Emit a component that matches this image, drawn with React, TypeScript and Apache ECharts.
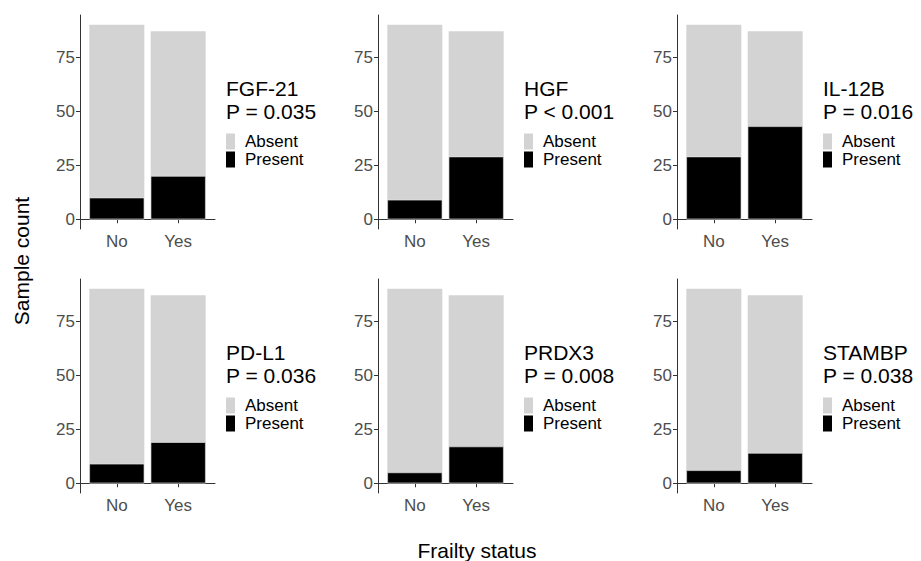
import React, { useEffect, useRef } from "react";
import * as echarts from "echarts";

const categories = ["No", "Yes"];
const markers = ["FGF-21", "HGF", "IL-12B", "PD-L1", "PRDX3", "STAMBP"];
const pValues = ["P = 0.035", "P < 0.001", "P = 0.016", "P = 0.036", "P = 0.008", "P = 0.038"];
const totals = [90, 87];
const presentNo = [10, 9, 29, 9, 5, 6];
const presentYes = [20, 29, 43, 19, 17, 14];
const yTicks = [0, 25, 50, 75];
const legendNames = ["Absent", "Present"];

const FONT = "'Liberation Sans', Arial, Helvetica, sans-serif";
const colLeft = [80, 378, 677];
const rowTop = [15, 279];
const gridW = 135;
const gridH = 214;

export default function App() {
  const ref = useRef<HTMLDivElement>(null);
  useEffect(() => {
    if (!ref.current) return;
    const chart = echarts.init(ref.current, null, { renderer: "svg" });
    const grids: any[] = [];
    const xAxes: any[] = [];
    const yAxes: any[] = [];
    const series: any[] = [];
    const titles: any[] = [];
    const legends: any[] = [];
    markers.forEach((m, i) => {
      const col = i % 3;
      const row = Math.floor(i / 3);
      const left = colLeft[col];
      const top = rowTop[row];
      grids.push({ left, top, width: gridW, height: gridH, containLabel: false });
      xAxes.push({
        type: "value",
        gridIndex: i,
        min: 0.4,
        max: 2.6,
        splitLine: { show: false },
        axisLine: { show: true, lineStyle: { color: "#333333", width: 1 } },
        axisTick: { show: true, customValues: [1, 2], length: 4, lineStyle: { color: "#333333" } },
        axisLabel: {
          show: true,
          customValues: [1, 2],
          formatter: (v: number) => categories[Math.round(v) - 1] ?? "",
          fontSize: 17,
          color: "#4D4D4D",
          fontFamily: FONT,
          margin: 4,
        },
      });
      yAxes.push({
        type: "value",
        gridIndex: i,
        min: -4.5,
        max: 94.5,
        splitLine: { show: false },
        axisLine: { show: true, lineStyle: { color: "#333333", width: 1 } },
        axisTick: { show: true, customValues: yTicks, length: 4, lineStyle: { color: "#333333" } },
        axisLabel: {
          show: true,
          customValues: yTicks,
          fontSize: 17,
          color: "#4D4D4D",
          fontFamily: FONT,
          margin: 5,
        },
      });
      series.push({
        name: "Absent",
        type: "bar",
        xAxisIndex: i,
        yAxisIndex: i,
        barWidth: 55,
        barGap: "-100%",
        itemStyle: { color: "#D3D3D3" },
        data: [
          [1, totals[0]],
          [2, totals[1]],
        ],
      });
      series.push({
        name: "Present",
        type: "bar",
        xAxisIndex: i,
        yAxisIndex: i,
        barWidth: 55,
        barGap: "-100%",
        itemStyle: { color: "#000000", borderColor: "#EDEDED", borderWidth: 0.6 },
        data: [
          [1, presentNo[i]],
          [2, presentYes[i]],
        ],
      });
      titles.push({
        text: m + "\n" + pValues[i],
        left: left + gridW + 11,
        top: top + 62,
        padding: 0,
        textStyle: {
          fontSize: 21,
          lineHeight: 23,
          fontWeight: "normal",
          color: "#000000",
          fontFamily: FONT,
        },
      });
      legends.push({
        data: legendNames,
        orient: "vertical",
        left: left + gridW + 11,
        top: top + 118,
        padding: 0,
        itemWidth: 9,
        itemHeight: 16,
        itemGap: 1,
        icon: "rect",
        selectedMode: false,
        itemStyle: { borderWidth: 0 },
        textStyle: {
          fontSize: 17,
          lineHeight: 16,
          color: "#000000",
          fontFamily: FONT,
          padding: [0, 0, 0, 5],
        },
      });
    });
    chart.setOption({
      animation: false,
      backgroundColor: "#ffffff",
      title: titles,
      legend: legends,
      grid: grids,
      xAxis: xAxes,
      yAxis: yAxes,
      series,
      graphic: [
        {
          type: "text",
          x: 21,
          y: 261,
          rotation: Math.PI / 2,
          style: {
            text: "Sample count",
            fontSize: 21,
            fill: "#000000",
            fontFamily: FONT,
            align: "center",
            verticalAlign: "middle",
          },
        },
        {
          type: "text",
          x: 477,
          y: 550,
          style: {
            text: "Frailty status",
            fontSize: 21,
            fill: "#000000",
            fontFamily: FONT,
            align: "center",
            verticalAlign: "middle",
          },
        },
      ],
    });
    return () => chart.dispose();
  }, []);
  return <div ref={ref} style={{ width: 921, height: 561, position: "absolute", left: 0, top: 0 }} />;
}
